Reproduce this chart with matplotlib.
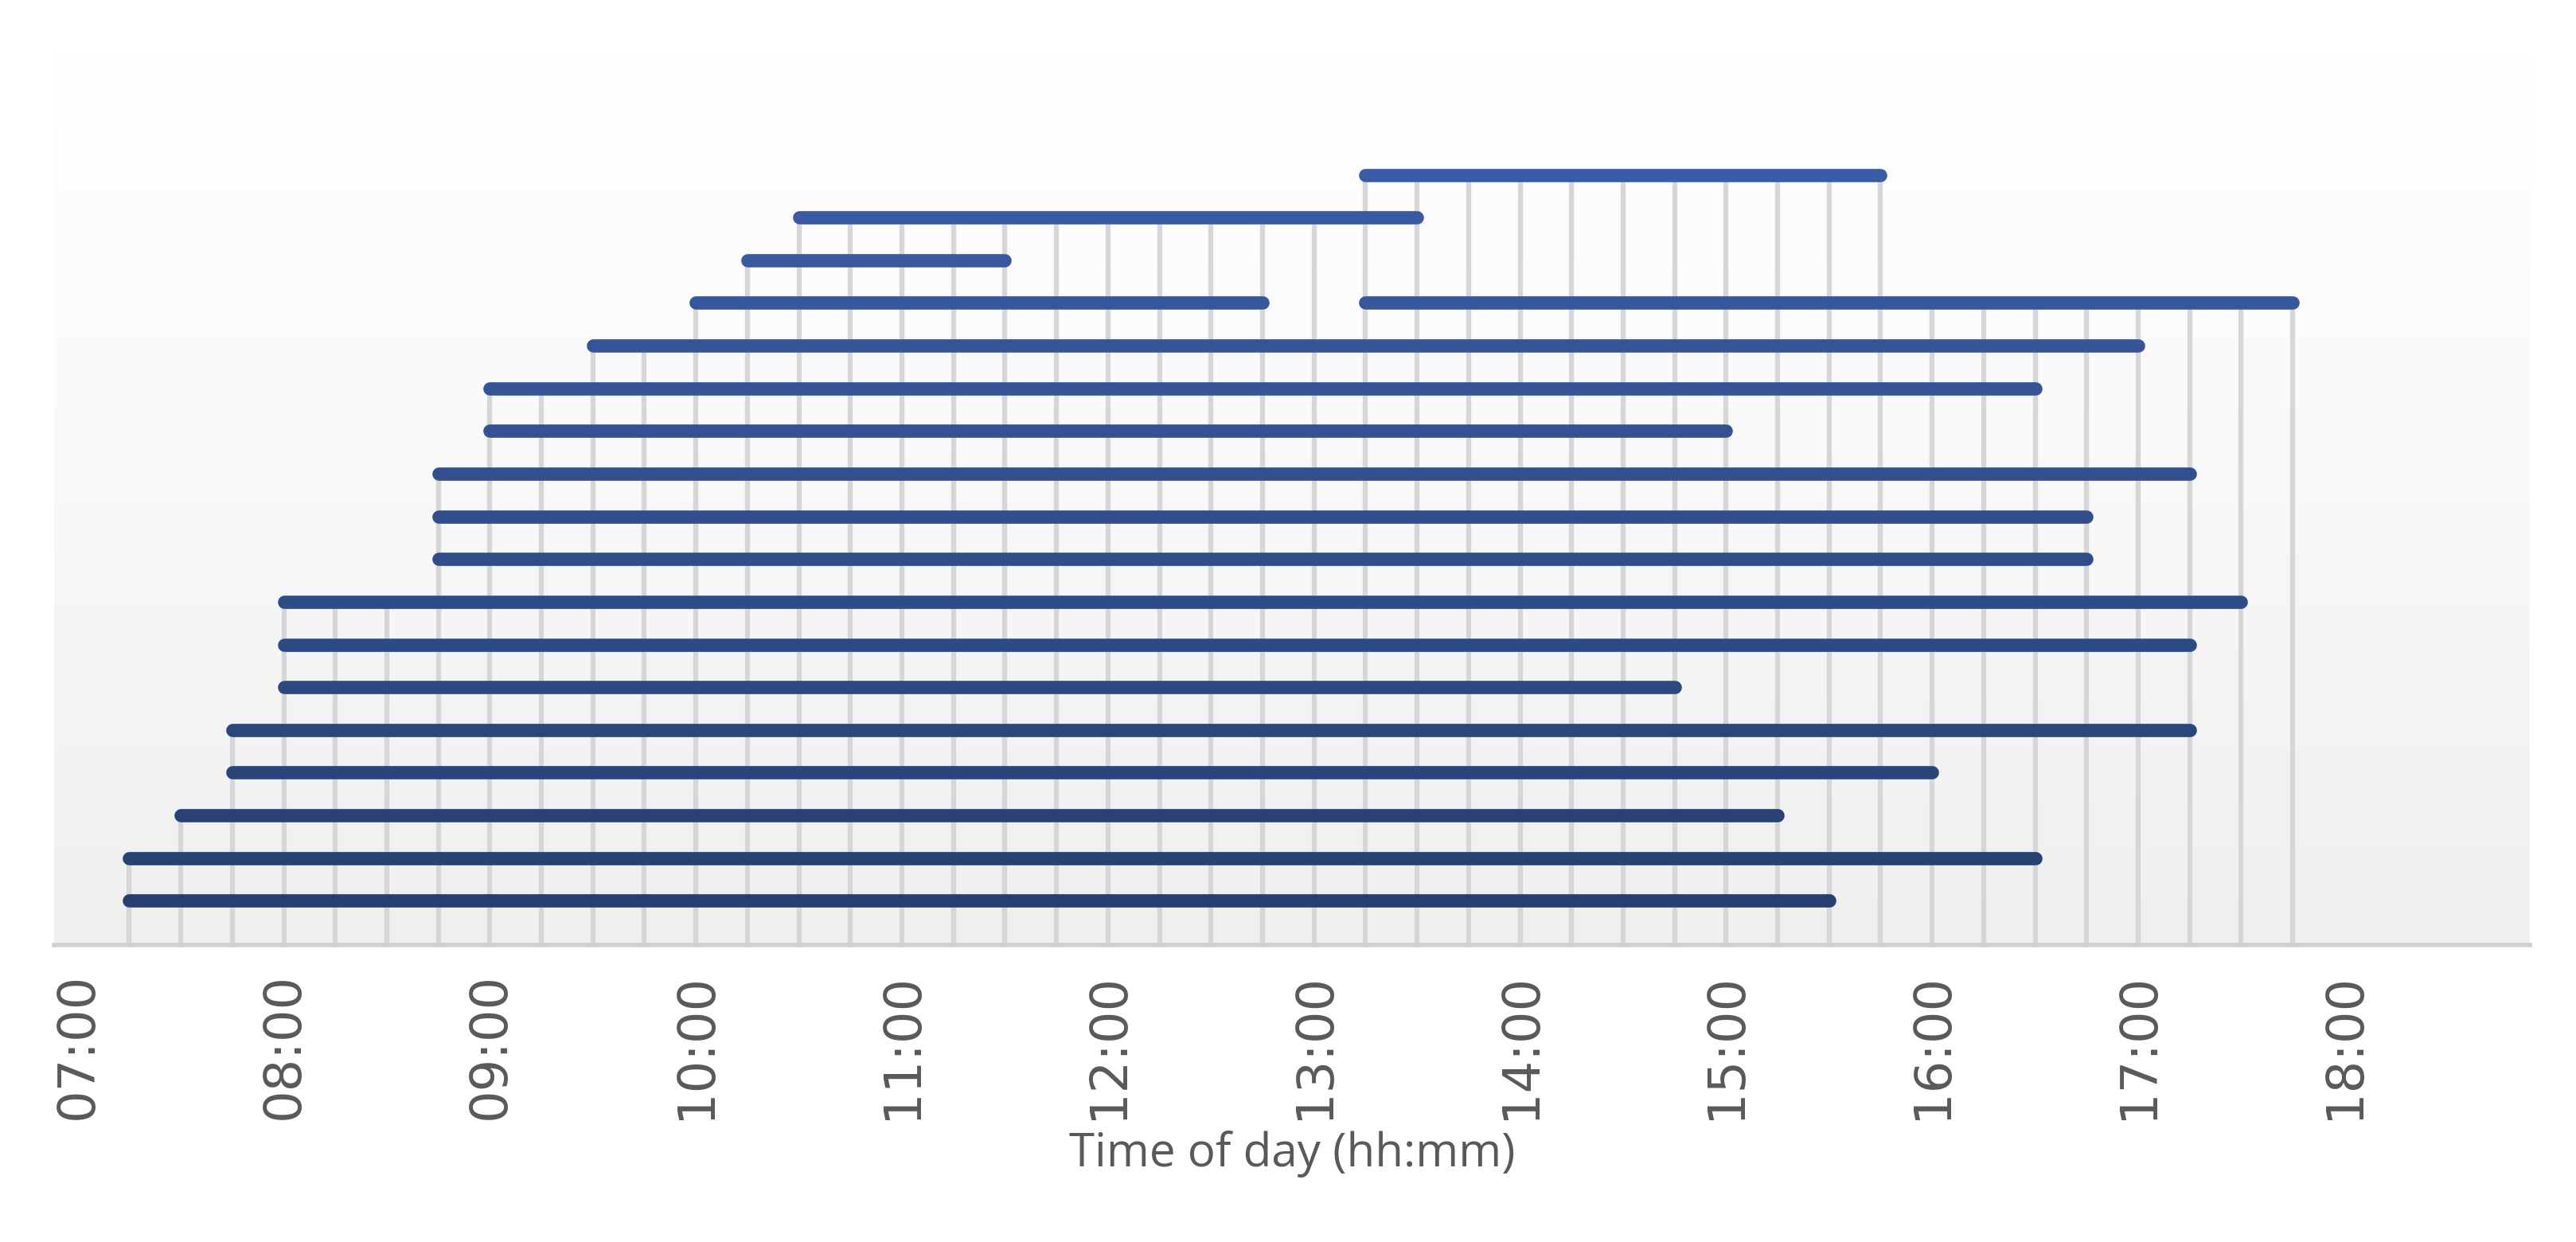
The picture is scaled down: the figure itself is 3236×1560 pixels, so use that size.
import matplotlib
matplotlib.use("Agg")
import matplotlib.pyplot as plt
import numpy as np

rows = list(range(18))
starts = ["07:15","07:15","07:30","07:45","07:45","08:00","08:00","08:00","08:45","08:45","08:45",
          "09:00","09:00","09:30","10:00","13:15","10:15","10:30","13:15"]
ends   = ["15:30","16:30","15:15","16:00","17:15","14:45","17:15","17:30","16:45","16:45","17:15",
          "15:00","16:30","17:00","12:45","17:45","11:30","13:30","15:45"]
levels = [0,1,2,3,4,5,6,7,8,9,10,11,12,13,14,14,15,16,17]
tick_labels = ["07:00","08:00","09:00","10:00","11:00","12:00","13:00","14:00","15:00","16:00","17:00","18:00"]

def h(s):
    a, b = s.split(":")
    return int(a) + int(b) / 60

S = [h(s) for s in starts]; E = [h(e) for e in ends]

fig = plt.figure(figsize=(32.36, 15.6), dpi=100)
ax = fig.add_axes([0.021, 0.239, 0.961, 0.72])
x0, x1 = 6.885, 18.9
y0, y1 = -1.04, 19.9
ax.set_xlim(x0, x1); ax.set_ylim(y0, y1)

grad = np.linspace(0, 1, 256)[:, None]
from matplotlib.colors import LinearSegmentedColormap
cm = LinearSegmentedColormap.from_list("bg", [(0, "#efefef"), (0.6, "#fafafa"), (1, "#ffffff")])
ax.imshow(grad, extent=[x0, x1, y0, y1], origin="lower", aspect="auto", cmap=cm, zorder=0)

# drop lines
t = min(S)
while t <= max(E) + 1e-6:
    top = max([lv for s, e, lv in zip(S, E, levels) if s - 1e-6 <= t <= e + 1e-6], default=None)
    if top is not None:
        ax.plot([t, t], [y0, top], color="#d6d6d6", lw=4.5, zorder=1, solid_capstyle="butt")
    t += 0.25

c0 = np.array([0x25, 0x40, 0x70]) / 255
c1 = np.array([0x3a, 0x5c, 0xa6]) / 255
for s, e, lv in zip(S, E, levels):
    col = c0 + (c1 - c0) * lv / 17
    ax.plot([s, e], [lv, lv], color=col, lw=12, solid_capstyle="round", zorder=3)

for sp in ["top", "right", "left"]:
    ax.spines[sp].set_visible(False)
ax.spines["bottom"].set_color("#d0d0d0"); ax.spines["bottom"].set_linewidth(4)
ax.set_yticks([])
ax.set_xticks([h(l) for l in tick_labels])
ax.set_xticklabels(tick_labels, rotation=90, fontsize=46, color="#595959")
ax.tick_params(axis="x", length=0, pad=25)
ax.set_xlabel("Time of day (hh:mm)", fontsize=42, color="#595959", labelpad=10,
              fontfamily="Open Sans")
fig.savefig("out.png", dpi=100, facecolor="white")
